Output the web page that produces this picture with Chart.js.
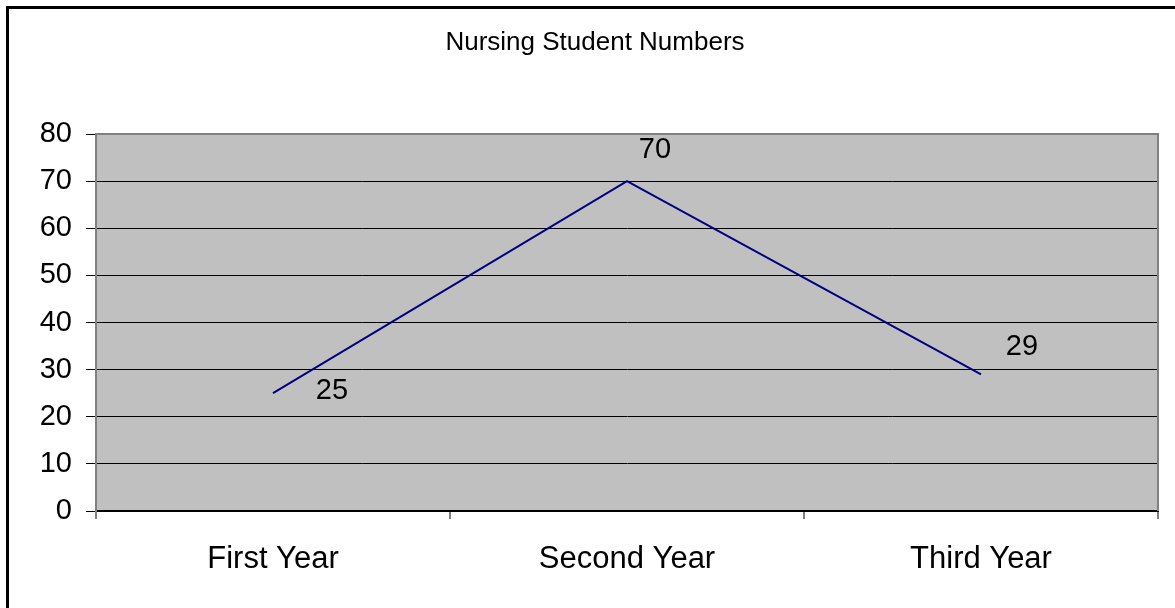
<!DOCTYPE html>
<html>
<head>
<meta charset="utf-8">
<script src="https://cdn.jsdelivr.net/npm/chart.js@4"></script>
<style>
  html, body { margin: 0; padding: 0; background: #fff; }
  #wrap { width: 1175px; height: 608px; }
</style>
</head>
<body>
<div id="wrap"><canvas id="myChart" width="1175" height="608"></canvas></div>
<script>
const chartTitle = 'Nursing Student Numbers';
const categories = ['First Year', 'Second Year', 'Third Year'];
const studentNumbers = [25, 70, 29];
const yTicks = [0, 10, 20, 30, 40, 50, 60, 70, 80];

// where each value label sits relative to its point (Excel placed them by hand)
const labelOffsets = [[59, -2], [28, -31], [41, -27]];

const FONT = '"Liberation Sans", Arial, sans-serif';

// gray plot background + gray frame on top/right
const plotArea = {
    id: 'plotArea',
    beforeDraw(chart) {
        const { ctx, chartArea: a } = chart;
        ctx.save();
        ctx.fillStyle = '#fff';
        ctx.fillRect(0, 0, chart.width, chart.height);
        ctx.fillStyle = '#c0c0c0';
        ctx.fillRect(a.left, a.top, a.right - a.left, a.bottom - a.top);
        ctx.restore();
    },
    beforeDatasetsDraw(chart) {
        const { ctx, chartArea: a } = chart;
        ctx.save();
        ctx.strokeStyle = '#808080';
        ctx.lineWidth = 2;
        ctx.beginPath();
        ctx.moveTo(a.left, a.top);
        ctx.lineTo(a.right, a.top);
        ctx.lineTo(a.right, a.bottom);
        ctx.stroke();
        ctx.restore();
    }
};

const valueLabels = {
    id: 'valueLabels',
    afterDatasetsDraw(chart) {
        const { ctx } = chart;
        const meta = chart.getDatasetMeta(0);
        ctx.save();
        ctx.font = '29px ' + FONT;
        ctx.fillStyle = '#000';
        ctx.textAlign = 'center';
        ctx.textBaseline = 'middle';
        meta.data.forEach((pt, i) => {
            const off = labelOffsets[i];
            ctx.fillText(String(studentNumbers[i]), pt.x + off[0], pt.y + off[1]);
        });
        ctx.restore();
    }
};

// title sits a bit right of the canvas centre, like the original
const titleText = {
    id: 'titleText',
    afterDraw(chart) {
        const { ctx } = chart;
        ctx.save();
        ctx.font = '26px ' + FONT;
        ctx.fillStyle = '#000';
        ctx.textAlign = 'center';
        ctx.textBaseline = 'middle';
        ctx.fillText(chartTitle, 595, 43);
        ctx.restore();
    }
};

// black frame on the left and top edges
const outerFrame = {
    id: 'outerFrame',
    afterDraw(chart) {
        const { ctx } = chart;
        ctx.save();
        ctx.fillStyle = '#000';
        ctx.fillRect(6, 6, chart.width - 6, 3);
        ctx.fillRect(6, 6, 3, chart.height - 6);
        ctx.restore();
    }
};

const ctx = document.getElementById('myChart').getContext('2d');

new Chart(ctx, {
    type: 'line',
    data: {
        labels: categories,
        datasets: [{
            label: chartTitle,
            data: studentNumbers,
            borderColor: '#000080',
            borderWidth: 2,
            pointRadius: 0,
            tension: 0,
            fill: false
        }]
    },
    options: {
        responsive: false,
        animation: false,
        layout: { padding: { left: 0, right: 17, top: 134, bottom: 0 } },
        plugins: {
            legend: { display: false },
            tooltip: { enabled: false },
            title: { display: false }
        },
        scales: {
            x: {
                offset: true,
                grid: {
                    offset: true,
                    drawOnChartArea: false,
                    drawTicks: true,
                    tickLength: 8,
                    color: '#808080',
                    lineWidth: 2
                },
                border: { display: true, color: '#000', width: 2 },
                ticks: {
                    color: '#000',
                    font: { family: FONT, size: 31 },
                    padding: 22,
                    maxRotation: 0
                },
                afterFit(scale) { scale.height = 97; }
            },
            y: {
                min: yTicks[0],
                max: yTicks[yTicks.length - 1],
                afterBuildTicks(scale) {
                    scale.ticks = yTicks.map(v => ({ value: v }));
                },
                grid: {
                    color: '#000',
                    lineWidth: 1,
                    drawTicks: true,
                    tickLength: 10
                },
                border: { display: true, color: '#808080', width: 2 },
                ticks: {
                    color: '#000',
                    font: { family: FONT, size: 29 },
                    padding: 14
                },
                afterFit(scale) { scale.width = 96; }
            }
        }
    },
    plugins: [plotArea, valueLabels, titleText, outerFrame]
});
</script>
</body>
</html>
